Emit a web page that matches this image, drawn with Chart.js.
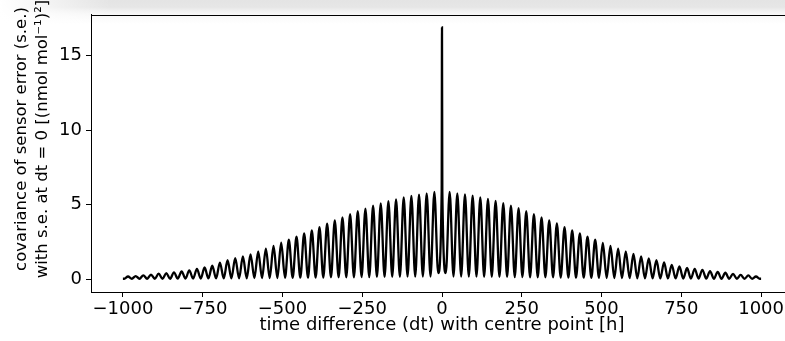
<!DOCTYPE html>
<html>
<head>
<meta charset="utf-8">
<script src="https://cdn.jsdelivr.net/npm/chart.js@4/dist/chart.umd.min.js"></script>
<style>
  body { margin: 0; background: #fff; overflow: hidden; }
  #wrap { position: relative; width: 785px; height: 341px; overflow: hidden; }
  #band {
    position: absolute; left: 0; top: 0; width: 785px; height: 24px;
    background:
      linear-gradient(to right, #fff 0, rgba(255,255,255,0) 110px),
      linear-gradient(#e4e4e4 0, #e6e6e6 7px, #eeeeee 10px, #f5f5f5 13px, #f9f9f9 16px, #fff 24px);
  }
  canvas { position: absolute; left: 0; top: 0; }
</style>
</head>
<body>
<div id="wrap">
  <div id="band"></div>
  <canvas id="chart" width="800" height="341"></canvas>
</div>
<script>
// daily maxima of the covariance (hours, value)
const peakHours = [
  -984, -960, -936, -912, -888, -864, -840, -816, -792, -768, -744, -720, -696, -672,
  -648, -624, -600, -576, -552, -528, -504, -480, -456, -432, -408, -384, -360, -336,
  -312, -288, -264, -240, -216, -192, -168, -144, -120, -96, -72, -48, -24,
  24, 48, 72, 96, 120, 144, 168, 192, 216, 240, 264, 288, 312, 336,
  360, 384, 408, 432, 456, 480, 504, 528, 552, 576, 600, 624, 648, 672,
  696, 720, 744, 768, 792, 816, 840, 864, 888, 912, 936, 960, 984
];
const peakValues = [
  0.17, 0.2, 0.25, 0.3, 0.36, 0.4, 0.45, 0.52, 0.58, 0.68, 0.78, 0.9, 1.1, 1.26,
  1.4, 1.52, 1.66, 1.86, 2.04, 2.22, 2.44, 2.64, 2.84, 3.06, 3.26, 3.48, 3.71, 3.93,
  4.13, 4.35, 4.55, 4.73, 4.93, 5.08, 5.22, 5.35, 5.47, 5.58, 5.66, 5.75, 5.84,
  5.84, 5.75, 5.68, 5.6, 5.48, 5.37, 5.24, 5.1, 4.93, 4.75, 4.55, 4.35, 4.13, 3.93,
  3.73, 3.48, 3.26, 3.06, 2.84, 2.64, 2.42, 2.22, 2.04, 1.86, 1.68, 1.52, 1.39, 1.26,
  1.11, 0.95, 0.84, 0.75, 0.68, 0.62, 0.53, 0.48, 0.42, 0.35, 0.28, 0.24, 0.17
];

// minima between the daily peaks, plus both ends of the series
const troughHours = [
  -1000, -996, -972, -948, -924, -900, -876, -852, -828, -804, -780, -756, -732, -708, -684,
  -660, -636, -612, -588, -564, -540, -516, -492, -468, -444, -420, -396, -372, -348,
  -324, -300, -276, -252, -228, -204, -180, -156, -132, -108, -84, -60, -36, -12,
  12, 36, 60, 84, 108, 132, 156, 180, 204, 228, 252, 276, 300, 324,
  348, 372, 396, 420, 444, 468, 492, 516, 540, 564, 588, 612, 636, 660,
  684, 708, 732, 756, 780, 804, 828, 852, 876, 900, 924, 948, 972, 996, 1000
];
const troughValues = [
  0.02, 0.02, 0.02, 0.02, 0.02, 0.02, 0.02, 0.02, 0.03, 0.03, 0.03, 0.03, 0.04, 0.04, 0.04,
  0.05, 0.05, 0.05, 0.06, 0.06, 0.07, 0.07, 0.08, 0.08, 0.09, 0.09, 0.1, 0.1, 0.11,
  0.11, 0.12, 0.12, 0.13, 0.13, 0.14, 0.14, 0.15, 0.15, 0.16, 0.16, 0.17, 0.17, 0.4,
  0.4, 0.17, 0.17, 0.16, 0.16, 0.15, 0.15, 0.14, 0.14, 0.13, 0.13, 0.12, 0.12, 0.11,
  0.11, 0.1, 0.1, 0.09, 0.09, 0.08, 0.08, 0.07, 0.07, 0.06, 0.06, 0.05, 0.05, 0.05,
  0.04, 0.04, 0.04, 0.03, 0.03, 0.03, 0.03, 0.02, 0.02, 0.02, 0.02, 0.02, 0.02, 0.02, 0.02
];

// the variance spike at dt = 0
const spikeHours = [-1, 0, 1];
const spikeValues = [5.9, 16.88, 5.9];

const xTicks = [-1000, -750, -500, -250, 0, 250, 500, 750, 1000];
const yTicks = [0, 5, 10, 15];
const yTitle = ["covariance of sensor error (s.e.)", "with s.e. at dt = 0 [(nmol mol\u207B\u00B9)\u00B2]"];

const points = [];
peakHours.forEach((h, i) => points.push({ x: h, y: peakValues[i] }));
troughHours.forEach((h, i) => points.push({ x: h, y: troughValues[i] }));
spikeHours.forEach((h, i) => points.push({ x: h, y: spikeValues[i] }));
points.sort((a, b) => a.x - b.x);

const font = { family: "'DejaVu Sans'", size: 18 };
const minus = v => (v < 0 ? "\u2212" + Math.abs(v) : String(v));

// top and right spines, like a matplotlib axes box
const frame = {
  id: "frame",
  afterDraw(chart) {
    const { ctx, chartArea: a } = chart;
    ctx.save();
    ctx.strokeStyle = "#000";
    ctx.lineWidth = 1;
    ctx.strokeRect(Math.round(a.left) + 0.5, Math.round(a.top) + 0.5,
      Math.round(a.right - a.left), Math.round(a.bottom - a.top));
    ctx.restore();
  }
};

// two line y label, sits a bit above the axis middle in the original
const yLabel = {
  id: "yLabel",
  afterDraw(chart) {
    const ctx = chart.ctx;
    ctx.save();
    ctx.fillStyle = "#000";
    ctx.font = "16.5px 'DejaVu Sans'";
    ctx.textAlign = "center";
    ctx.textBaseline = "middle";
    [22, 43].forEach((x, i) => {
      ctx.save();
      ctx.translate(x, 139);
      ctx.rotate(-Math.PI / 2);
      ctx.fillText(yTitle[i], 0, 0);
      ctx.restore();
    });
    ctx.restore();
  }
};

new Chart(document.getElementById("chart"), {
  type: "line",
  data: {
    datasets: [{
      data: points,
      borderColor: "#000",
      borderWidth: 2.3,
      pointRadius: 0,
      fill: false,
      cubicInterpolationMode: "monotone"
    }]
  },
  options: {
    responsive: false,
    animation: false,
    events: [],
    layout: { padding: { top: 13, right: 7, left: 0, bottom: 0 } },
    plugins: { legend: { display: false }, tooltip: { enabled: false } },
    scales: {
      x: {
        type: "linear",
        min: -1100,
        max: 1100,
        afterBuildTicks: s => { s.ticks = xTicks.map(v => ({ value: v })); },
        afterFit: s => { s.height = 49; },
        grid: { drawOnChartArea: false, color: "#000", tickLength: 5 },
        border: { color: "#000", width: 1 },
        ticks: { color: "#000", font, padding: 2, maxRotation: 0, autoSkip: false, callback: minus },
        title: {
          display: true,
          text: "time difference (dt) with centre point [h]",
          color: "#000",
          font,
          padding: { top: 0, bottom: 5 }
        }
      },
      y: {
        min: -0.87,
        max: 17.73,
        afterBuildTicks: s => { s.ticks = yTicks.map(v => ({ value: v })); },
        afterFit: s => { s.width = 91; },
        grid: { drawOnChartArea: false, color: "#000", tickLength: 5 },
        border: { color: "#000", width: 1 },
        ticks: { color: "#000", font, padding: 4, callback: minus },
        title: { display: false }
      }
    }
  },
  plugins: [frame, yLabel]
});
</script>
</body>
</html>
